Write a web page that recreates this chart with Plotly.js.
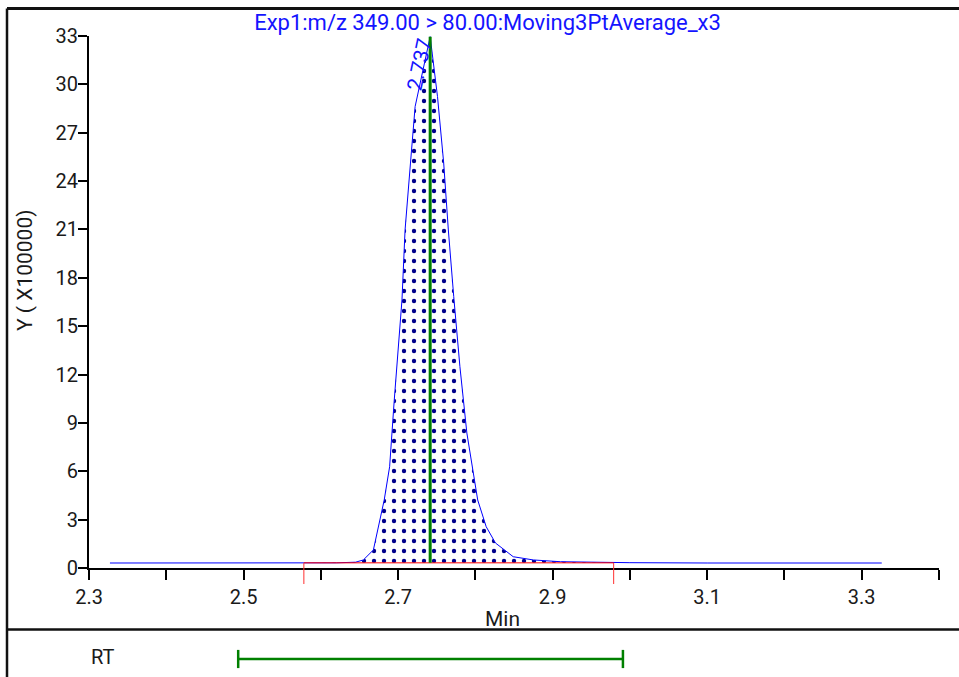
<!DOCTYPE html>
<html><head><meta charset="utf-8">
<script src="https://cdn.plot.ly/plotly-3.0.1.min.js"></script>
<style>html,body{margin:0;padding:0;background:#fff;} #chart{width:959px;height:677px;}</style>
</head><body><div id="chart"></div>
<script>
// ---- data (retention time in min, intensity in x100000) ----
const rtMin = [2.327, 2.40, 2.50, 2.58, 2.62, 2.645, 2.655, 2.668, 2.673, 2.682, 2.689, 2.695, 2.705, 2.709, 2.716, 2.722, 2.7415, 2.751, 2.759, 2.765, 2.772, 2.780, 2.789, 2.796, 2.803, 2.814, 2.826, 2.849, 2.875, 2.910, 2.95, 3.00, 3.10, 3.20, 3.326];
const intensity = [0.31, 0.31, 0.31, 0.31, 0.32, 0.36, 0.50, 1.12, 2.17, 4.22, 6.28, 10.42, 16.63, 20.97, 25.12, 28.62, 32.96, 29.24, 25.12, 20.97, 16.83, 12.49, 8.37, 6.28, 4.22, 2.56, 1.55, 0.70, 0.50, 0.39, 0.36, 0.33, 0.31, 0.31, 0.31];
const apexLabel = '2.737';
const integStart = 2.578;
const integEnd = 2.979;
const integBase = 0.32;
const rtWindow = [2.493, 2.991];
const xTickVals = [2.3, 2.5, 2.7, 2.9, 3.1, 3.3];
const xTickText = ['2.3', '2.5', '2.7', '2.9', '3.1', '3.3'];
const xMinorVals = [2.4, 2.6, 2.8, 3.0, 3.2, 3.4];
const yTickVals = [0, 3, 6, 9, 12, 15, 18, 21, 24, 27, 30, 33];
const titleText = 'Exp1:m/z 349.00 > 80.00:Moving3PtAverage_x3';

// derived
let apexIdx = 0;
intensity.forEach((v, i) => { if (v > intensity[apexIdx]) apexIdx = i; });
const apexRT = rtMin[apexIdx], apexY = intensity[apexIdx];
const fillX = [integStart], fillY = [integBase];
rtMin.forEach((x, i) => { if (x > integStart && x < integEnd) { fillX.push(x); fillY.push(Math.max(intensity[i], integBase)); } });
fillX.push(integEnd); fillY.push(integBase);

// layout geometry helpers (paper fractions)
const W = 959, H = 677, ML = 89, MR = 20, MT = 36, MB = 0;
const PW = W - ML - MR, PH = H - MT - MB;
const px = p => (p - ML) / PW;
const py = p => (H - MB - p) / PH;

const FONT = 'Roboto, "Liberation Sans", Arial, sans-serif';
const traces = [
  { x: fillX, y: fillY, mode: 'lines', line: { width: 0 }, fill: 'toself', fillcolor: 'white',
    fillpattern: { shape: '.', fgcolor: '#00008b', bgcolor: 'white', size: 10, solidity: 0.15 }, hoverinfo: 'skip' },
  { x: rtMin, y: intensity, mode: 'lines', line: { color: '#0000ff', width: 1 } },
  { x: [integStart, integEnd], y: [integBase, integBase], mode: 'lines', line: { color: '#ff0000', width: 1 } },
  { x: [apexRT, apexRT], y: [integBase, apexY], mode: 'lines', line: { color: '#008000', width: 3 } },
  { x: rtWindow, y: [0.5, 0.5], xaxis: 'x', yaxis: 'y2', mode: 'lines+markers',
    line: { color: '#008000', width: 2.5 }, marker: { symbol: 'line-ns', size: 13, line: { color: '#008000', width: 2.5 } } }
];

const black = '#000';
const layout = {
  width: W, height: H,
  margin: { l: ML, r: MR, t: MT, b: MB, pad: 0 },
  paper_bgcolor: 'white', plot_bgcolor: 'rgba(0,0,0,0)',
  showlegend: false,
  font: { family: FONT, size: 20, color: '#1a1a1a' },
  title: { text: titleText, font: { family: FONT, size: 22, color: '#1414ff' },
           xref: 'paper', x: px(487.5), xanchor: 'center', yref: 'container', y: 1 - 22 / H, yanchor: 'middle' },
  xaxis: {
    range: [2.2999, 3.4001], anchor: 'y', showline: true, linewidth: 2, linecolor: black,
    ticks: 'outside', ticklen: 10, tickwidth: 2, tickcolor: black,
    tickmode: 'array', tickvals: xTickVals, ticktext: xTickText,
    minor: { tickmode: 'array', tickvals: xMinorVals, ticks: 'outside', ticklen: 10, tickwidth: 2, tickcolor: black, showgrid: false },
    showgrid: false, zeroline: false, tickfont: { size: 20, color: '#1a1a1a' }
  },
  yaxis: {
    domain: [py(568), 1], range: [0, 33.0001], showline: true, linewidth: 2, linecolor: black,
    ticks: 'outside', ticklen: 9, tickwidth: 2, tickcolor: black, ticklabelstandoff: -4,
    tickmode: 'array', tickvals: yTickVals, showgrid: false, zeroline: false,
    tickfont: { size: 20, color: '#1a1a1a' }
  },
  yaxis2: { domain: [0, py(641)], range: [0, 1], anchor: 'x', visible: false },
  annotations: [
    { x: apexRT, y: apexY, xref: 'x', yref: 'y', text: apexLabel, showarrow: false, textangle: -78,
      font: { family: FONT, size: 21, color: '#1414ff' }, xanchor: 'center', yanchor: 'middle', xshift: -11, yshift: -28 },
    { xref: 'paper', yref: 'paper', x: px(25), y: py(270), text: 'Y ( X100000)', textangle: -90, showarrow: false,
      font: { family: FONT, size: 21, color: '#1a1a1a' }, xanchor: 'center', yanchor: 'middle' },
    { xref: 'paper', yref: 'paper', x: px(502), y: py(619), text: 'Min', showarrow: false,
      font: { family: FONT, size: 21, color: '#1a1a1a' }, xanchor: 'center', yanchor: 'middle' },
    { xref: 'paper', yref: 'y2', x: px(103), y: 0.55, text: 'RT', showarrow: false,
      font: { family: FONT, size: 20, color: '#1a1a1a' }, xanchor: 'center', yanchor: 'middle' }
  ],
  shapes: [
    { type: 'line', xref: 'paper', yref: 'paper', x0: px(7), x1: px(959), y0: py(8.5), y1: py(8.5), line: { color: '#111', width: 3 } },
    { type: 'line', xref: 'paper', yref: 'paper', x0: px(7), x1: px(7), y0: py(8.5), y1: py(677), line: { color: '#111', width: 2.5 } },
    { type: 'line', xref: 'paper', yref: 'paper', x0: px(7), x1: px(959), y0: py(629.5), y1: py(629.5), line: { color: '#111', width: 2.5 } },
    { type: 'line', xref: 'x', yref: 'paper', x0: integStart, x1: integStart, y0: py(563), y1: py(584), line: { color: '#ff3030', width: 1 } },
    { type: 'line', xref: 'x', yref: 'paper', x0: integEnd, x1: integEnd, y0: py(563), y1: py(584), line: { color: '#ff3030', width: 1 } }
  ]
};

Plotly.newPlot('chart', traces, layout, { staticPlot: true, displayModeBar: false });
</script>
</body></html>
